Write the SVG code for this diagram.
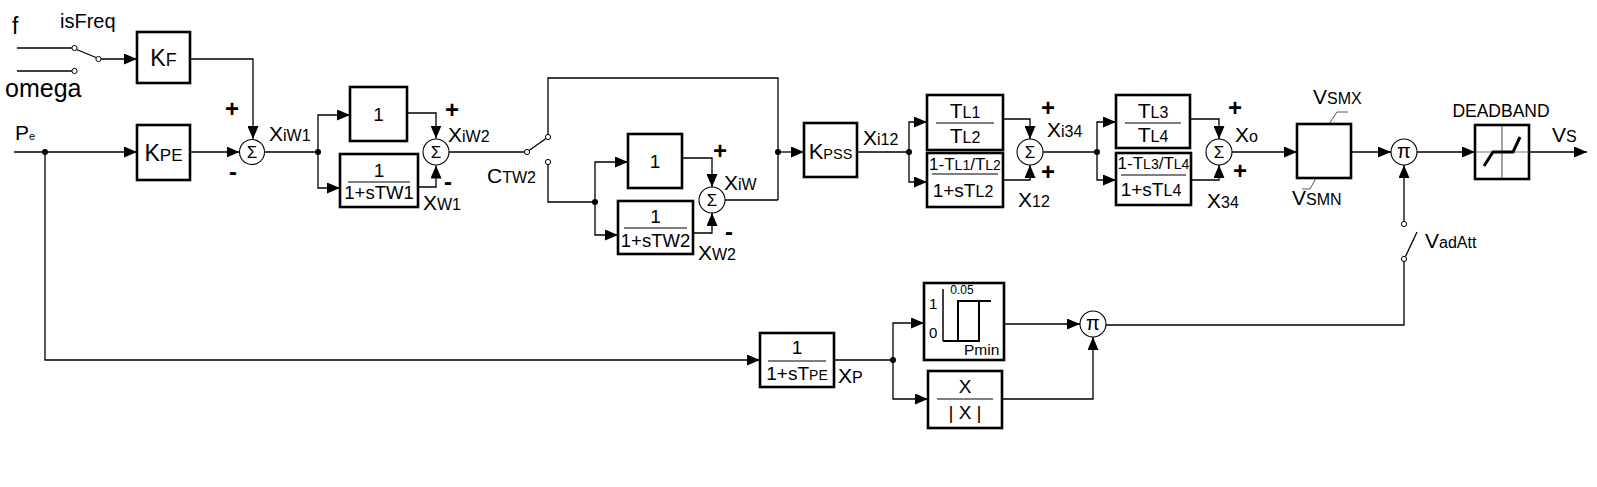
<svg xmlns="http://www.w3.org/2000/svg" width="1597" height="487" viewBox="0 0 1597 487">
<style>
.ln{stroke:#000;stroke-width:1.3;fill:none}
.bx{stroke:#000;stroke-width:2.6;fill:#fff}
.fr{stroke:#000;stroke-width:1.2}
.cs{stroke:#000;stroke-width:1.1;fill:#fff}
.sw{stroke:#000;stroke-width:1;fill:#fff}
.ld{stroke:#555;stroke-width:1;fill:none}
.t{font-family:"Liberation Sans",Arial,sans-serif;fill:#000}
.b{font-size:21px}
.s{font-size:16px}
.m{font-size:19px}
.pm{font-family:"Liberation Sans",Arial,sans-serif;font-size:24px;font-weight:bold}
.sg{font-family:"Liberation Sans",Arial,sans-serif;font-size:17px;text-anchor:middle}
.pi{font-family:"Liberation Sans",Arial,sans-serif;font-size:20px;text-anchor:middle}
</style>
<defs>
<marker id="a" markerUnits="userSpaceOnUse" markerWidth="13" markerHeight="11" refX="13" refY="5.5" orient="auto"><path d="M0,0 L13,5.5 L0,11 z" fill="#000"/></marker>
</defs>
<rect width="1597" height="487" fill="#fff"/>

<g id="connectors">
<line class="ln" x1="17" y1="48" x2="72" y2="48"/>
<line class="ln" x1="17" y1="71" x2="72" y2="71"/>
<line class="ln" x1="76.5" y1="49.5" x2="96" y2="57.5"/>
<line class="ln" x1="101" y1="59" x2="137" y2="59" marker-end="url(#a)"/>
<polyline class="ln" points="190,59 253,59 253,139" marker-end="url(#a)"/>
<line class="ln" x1="14" y1="152" x2="137" y2="152" marker-end="url(#a)"/>
<line class="ln" x1="190" y1="152" x2="239.5" y2="152" marker-end="url(#a)"/>
<line class="ln" x1="265" y1="152" x2="318" y2="152"/>
<polyline class="ln" points="318,152 318,115 350,115" marker-end="url(#a)"/>
<polyline class="ln" points="318,152 318,188 340,188" marker-end="url(#a)"/>
<polyline class="ln" points="407,113 436,113 436,138.5" marker-end="url(#a)"/>
<polyline class="ln" points="418,187 436,187 436,165.5" marker-end="url(#a)"/>
<line class="ln" x1="449" y1="152" x2="524.5" y2="152"/>
<line class="ln" x1="529" y1="150.5" x2="546" y2="138.5"/>
<polyline class="ln" points="548,134.5 548,78 778,78 778,200"/>
<polyline class="ln" points="548,164.5 548,202 595,202"/>
<polyline class="ln" points="595,202 595,162 628,162" marker-end="url(#a)"/>
<polyline class="ln" points="595,202 595,235 618,235" marker-end="url(#a)"/>
<polyline class="ln" points="682,158 712,158 712,187" marker-end="url(#a)"/>
<polyline class="ln" points="693,233 712,233 712,213" marker-end="url(#a)"/>
<polyline class="ln" points="725,200 778,200"/>
<line class="ln" x1="778" y1="152" x2="804" y2="152" marker-end="url(#a)"/>
<line class="ln" x1="857" y1="152" x2="909" y2="152"/>
<polyline class="ln" points="909,152 909,122 927,122" marker-end="url(#a)"/>
<polyline class="ln" points="909,152 909,182 927,182" marker-end="url(#a)"/>
<polyline class="ln" points="1003,119 1030,119 1030,139" marker-end="url(#a)"/>
<polyline class="ln" points="1003,180 1030,180 1030,165" marker-end="url(#a)"/>
<line class="ln" x1="1043" y1="152" x2="1097" y2="152"/>
<polyline class="ln" points="1097,152 1097,122 1116,122" marker-end="url(#a)"/>
<polyline class="ln" points="1097,152 1097,180 1116,180" marker-end="url(#a)"/>
<polyline class="ln" points="1190,119 1219,119 1219,139" marker-end="url(#a)"/>
<polyline class="ln" points="1191,180 1219,180 1219,165" marker-end="url(#a)"/>
<line class="ln" x1="1232" y1="152" x2="1297" y2="152" marker-end="url(#a)"/>
<line class="ln" x1="1351" y1="152" x2="1391" y2="152" marker-end="url(#a)"/>
<line class="ln" x1="1417" y1="152" x2="1475" y2="152" marker-end="url(#a)"/>
<line class="ln" x1="1529" y1="152" x2="1587" y2="152" marker-end="url(#a)"/>
<line class="ln" x1="1404" y1="221.5" x2="1404" y2="165" marker-end="url(#a)"/>
<line class="ln" x1="1405.5" y1="256.5" x2="1417" y2="232"/>
<polyline class="ln" points="1404,261.5 1404,325 1106,325"/>
<polyline class="ln" points="45,152 45,360 760,360" marker-end="url(#a)"/>
<line class="ln" x1="834" y1="360" x2="893" y2="360"/>
<polyline class="ln" points="893,360 893,323 924,323" marker-end="url(#a)"/>
<polyline class="ln" points="893,360 893,399 928,399" marker-end="url(#a)"/>
<line class="ln" x1="1004" y1="324" x2="1080" y2="324" marker-end="url(#a)"/>
<polyline class="ln" points="1002,399 1093,399 1093,337" marker-end="url(#a)"/>
<circle cx="45" cy="152" r="3"/>
<circle cx="318" cy="152" r="3"/>
<circle cx="595" cy="202" r="3"/>
<circle cx="778" cy="152" r="3"/>
<circle cx="909" cy="152" r="3"/>
<circle cx="1097" cy="152" r="3"/>
<circle cx="893" cy="360" r="3"/>
<circle class="sw" cx="74.5" cy="48" r="2.6"/>
<circle class="sw" cx="74.5" cy="71" r="2.6"/>
<circle class="sw" cx="98.5" cy="59" r="2.6"/>
<circle class="sw" cx="527" cy="152" r="2.6"/>
<circle class="sw" cx="548" cy="137" r="2.6"/>
<circle class="sw" cx="548" cy="162" r="2.6"/>
<circle class="sw" cx="1404" cy="224" r="2.6"/>
<circle class="sw" cx="1404" cy="259" r="2.6"/>
<polyline class="ld" points="1329,124 1337,112 1348,112"/>
<polyline class="ld" points="1316,178 1310,189 1302,189"/>
</g>

<g id="labels">
<text class="t" x="12" y="34" font-size="23">f</text>
<text class="t" x="60" y="28" font-size="20">isFreq</text>
<text class="t" x="5" y="97" font-size="25">omega</text>
<text class="t" x="15" y="140" font-size="21">P<tspan font-size="11">e</tspan></text>
<text class="pm" x="225" y="117">+</text>
<text class="pm" x="229" y="180">-</text>
<text class="t" x="269" y="141"><tspan class="b">X</tspan><tspan class="s">iW1</tspan></text>
<text class="pm" x="445" y="118">+</text>
<text class="t" x="448" y="142"><tspan class="b">X</tspan><tspan class="s">iW2</tspan></text>
<text class="pm" x="444" y="190">-</text>
<text class="t" x="423" y="210"><tspan class="b">X</tspan><tspan class="s">W1</tspan></text>
<text class="t" x="487" y="183"><tspan class="b">C</tspan><tspan class="s">TW2</tspan></text>
<text class="pm" x="713" y="159">+</text>
<text class="t" x="724" y="190"><tspan class="b">X</tspan><tspan class="s">iW</tspan></text>
<text class="pm" x="725" y="240">-</text>
<text class="t" x="698" y="260"><tspan class="b">X</tspan><tspan class="s">W2</tspan></text>
<text class="t" x="863" y="145"><tspan class="b">X</tspan><tspan class="s">i12</tspan></text>
<text class="pm" x="1041" y="116">+</text>
<text class="t" x="1047" y="137"><tspan class="b">X</tspan><tspan class="s">i34</tspan></text>
<text class="pm" x="1041" y="180">+</text>
<text class="t" x="1018" y="207"><tspan class="b">X</tspan><tspan class="s">12</tspan></text>
<text class="pm" x="1228" y="116">+</text>
<text class="t" x="1235" y="142"><tspan class="b">X</tspan><tspan class="s">o</tspan></text>
<text class="pm" x="1233" y="179">+</text>
<text class="t" x="1207" y="208"><tspan class="b">X</tspan><tspan class="s">34</tspan></text>
<text class="t" x="1313" y="104"><tspan class="b">V</tspan><tspan class="s">SMX</tspan></text>
<text class="t" x="1292" y="205"><tspan class="b">V</tspan><tspan class="s">SMN</tspan></text>
<text class="t" x="1501" y="117" font-size="17.5" text-anchor="middle">DEADBAND</text>
<text class="t" x="1552" y="142"><tspan class="b">V</tspan><tspan class="s">S</tspan></text>
<text class="t" x="1425" y="248"><tspan class="b">V</tspan><tspan class="s">adAtt</tspan></text>
<text class="t" x="838" y="383"><tspan class="b">X</tspan><tspan class="s">P</tspan></text>
</g>

<g id="KF">
<rect class="bx" x="137" y="32" width="53" height="51"/>
<text class="t" x="163.5" y="66" text-anchor="middle"><tspan font-size="23">K</tspan><tspan font-size="18">F</tspan></text>
</g>
<g id="KPE">
<rect class="bx" x="137" y="125" width="53" height="55"/>
<text class="t" x="163.5" y="161" text-anchor="middle"><tspan font-size="23">K</tspan><tspan font-size="17">PE</tspan></text>
</g>
<g id="sum1">
<circle class="cs" cx="252" cy="152" r="12.5"/>
<text class="sg" x="252" y="158">Σ</text>
</g>
<g id="W1one">
<rect class="bx" x="350" y="87" width="57" height="54"/>
<text class="t m" x="378.5" y="121" text-anchor="middle">1</text>
</g>
<g id="W1lag">
<rect class="bx" x="340" y="154" width="78" height="53"/>
<text class="t m" x="379" y="177" text-anchor="middle">1</text>
<line class="fr" x1="348" y1="182" x2="410" y2="182"/>
<text class="t" font-size="18.5" x="379" y="199" text-anchor="middle">1+sTW1</text>
</g>
<g id="sum2">
<circle class="cs" cx="436" cy="152" r="13"/>
<text class="sg" x="436" y="158">Σ</text>
</g>
<g id="W2one">
<rect class="bx" x="628" y="134" width="54" height="54"/>
<text class="t m" x="655" y="168" text-anchor="middle">1</text>
</g>
<g id="W2lag">
<rect class="bx" x="618" y="201" width="75" height="53"/>
<text class="t m" x="655.5" y="223" text-anchor="middle">1</text>
<line class="fr" x1="624" y1="228" x2="687" y2="228"/>
<text class="t" font-size="18.5" x="655.5" y="247" text-anchor="middle">1+sTW2</text>
</g>
<g id="sum3">
<circle class="cs" cx="712" cy="200" r="13"/>
<text class="sg" x="712" y="206">Σ</text>
</g>
<g id="KPSS">
<rect class="bx" x="804" y="123" width="53" height="54"/>
<text class="t" x="830.5" y="159" text-anchor="middle"><tspan font-size="22">K</tspan><tspan font-size="14.5">PSS</tspan></text>
</g>
<g id="LL1a">
<rect class="bx" x="927" y="95" width="76" height="55"/>
<text class="t" x="965" y="118" text-anchor="middle"><tspan class="b">T</tspan><tspan class="s">L1</tspan></text>
<line class="fr" x1="936" y1="123" x2="994" y2="123"/>
<text class="t" x="965" y="143" text-anchor="middle"><tspan class="b">T</tspan><tspan class="s">L2</tspan></text>
</g>
<g id="LL1b">
<rect class="bx" x="927" y="153" width="76" height="54"/>
<text class="t" x="965" y="170" text-anchor="middle"><tspan font-size="17">1-T</tspan><tspan font-size="14">L1</tspan><tspan font-size="17">/T</tspan><tspan font-size="14">L2</tspan></text>
<line class="fr" x1="932" y1="174" x2="998" y2="174"/>
<text class="t" x="963" y="197" text-anchor="middle"><tspan class="m">1+sT</tspan><tspan class="s">L2</tspan></text>
</g>
<g id="sum4">
<circle class="cs" cx="1030" cy="152" r="13"/>
<text class="sg" x="1030" y="158">Σ</text>
</g>
<g id="LL2a">
<rect class="bx" x="1116" y="95" width="74" height="53"/>
<text class="t" x="1153" y="118" text-anchor="middle"><tspan class="b">T</tspan><tspan class="s">L3</tspan></text>
<line class="fr" x1="1125" y1="123" x2="1181" y2="123"/>
<text class="t" x="1153" y="142" text-anchor="middle"><tspan class="b">T</tspan><tspan class="s">L4</tspan></text>
</g>
<g id="LL2b">
<rect class="bx" x="1116" y="153" width="75" height="52"/>
<text class="t" x="1153.5" y="169" text-anchor="middle"><tspan font-size="17">1-T</tspan><tspan font-size="14">L3</tspan><tspan font-size="17">/T</tspan><tspan font-size="14">L4</tspan></text>
<line class="fr" x1="1121" y1="175" x2="1186" y2="175"/>
<text class="t" x="1151" y="196" text-anchor="middle"><tspan class="m">1+sT</tspan><tspan class="s">L4</tspan></text>
</g>
<g id="sum5">
<circle class="cs" cx="1219" cy="152" r="13"/>
<text class="sg" x="1219" y="158">Σ</text>
</g>
<g id="limiter">
<rect class="bx" x="1297" y="124" width="54" height="54"/>
</g>
<g id="mult1">
<circle class="cs" cx="1404" cy="152" r="13"/>
<text class="pi" x="1404" y="158">π</text>
</g>
<g id="deadband">
<rect class="bx" x="1475" y="125" width="54" height="54"/>
<line x1="1502" y1="126" x2="1502" y2="178" stroke="#444" stroke-width="1"/>
<line x1="1476" y1="152" x2="1528" y2="152" stroke="#777" stroke-width="1"/>
<polyline points="1484,166 1493,152 1513,152 1520,137" fill="none" stroke="#000" stroke-width="3"/>
</g>
<g id="TPE">
<rect class="bx" x="760" y="333" width="74" height="54"/>
<text class="t m" x="797" y="354" text-anchor="middle">1</text>
<line class="fr" x1="768" y1="361" x2="826" y2="361"/>
<text class="t" x="797" y="380" text-anchor="middle"><tspan class="m">1+sT</tspan><tspan font-size="14">PE</tspan></text>
</g>
<g id="Pmin">
<rect class="bx" x="924" y="283" width="80" height="77"/>
<line x1="943" y1="289" x2="943" y2="341" stroke="#000" stroke-width="1.5"/>
<polyline points="943,341 979,341 979,301 958,301 958,341" fill="none" stroke="#000" stroke-width="2"/>
<line x1="979" y1="301" x2="991" y2="301" stroke="#000" stroke-width="2"/>
<text class="t" x="929" y="309" font-size="15">1</text>
<text class="t" x="929" y="338" font-size="15">0</text>
<text class="t" x="962" y="294" font-size="12" text-anchor="middle">0.05</text>
<text class="t" x="964" y="355" font-size="15.5">Pmin</text>
</g>
<g id="sign">
<rect class="bx" x="928" y="371" width="74" height="57"/>
<text class="t m" x="965" y="393" text-anchor="middle">X</text>
<line class="fr" x1="937" y1="399" x2="993" y2="399"/>
<text class="t m" x="965" y="419" text-anchor="middle">| X |</text>
</g>
<g id="mult2">
<circle class="cs" cx="1093" cy="324" r="13"/>
<text class="pi" x="1093" y="330">π</text>
</g>
</svg>
